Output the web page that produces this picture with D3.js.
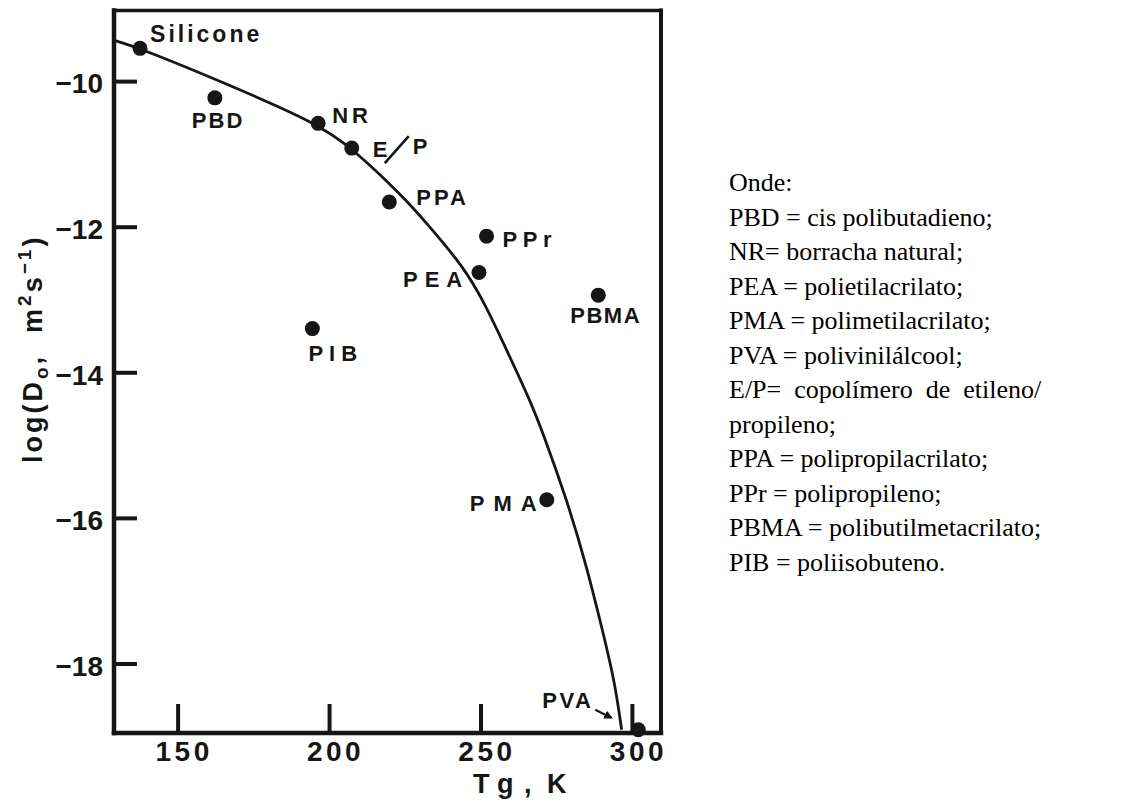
<!DOCTYPE html>
<html>
<head>
<meta charset="utf-8">
<script src="https://cdn.jsdelivr.net/npm/d3@7"></script>
<style>
  html, body { margin: 0; padding: 0; background: #fff; }
  svg { display: block; }
</style>
</head>
<body>
<svg id="chart" width="1121" height="800"></svg>
<script>
// Diffusion coefficient vs. glass transition temperature of several polymers
const polymers   = ["Silicone", "PBD", "NR", "E/P", "PPA", "PPr", "PEA", "PBMA", "PIB", "PMA", "PVA"];
const tgValues   = [137.6, 162.3, 196.4, 207.5, 219.9, 252.0, 249.5, 288.9, 194.5, 271.9, 302.1];
const logD0Values = [-9.55, -10.23, -10.58, -10.92, -11.66, -12.13, -12.63, -12.94, -13.40, -15.75, -18.91];

// Trend curve traced through the series
const curveTg    = [129.0, 137.6, 161.8, 196.3, 207.5, 223.4, 233.3, 244.3, 250.9, 258.6, 266.3, 270.7, 278.5, 285.1, 290.5, 294.4, 296.6];
const curveLogD0 = [-9.44, -9.55, -9.96, -10.58, -10.92, -11.54, -12.00, -12.55, -13.01, -13.69, -14.38, -14.84, -15.75, -16.67, -17.58, -18.27, -18.91];

// Axis ticks
const xTicks = [150, 200, 250, 300];
const yTicks = [-10, -12, -14, -16, -18];

// Key printed beside the plot
const keyLines = [
  "Onde:",
  "PBD = cis polibutadieno;",
  "NR= borracha natural;",
  "PEA = polietilacrilato;",
  "PMA = polimetilacrilato;",
  "PVA = polivinilálcool;",
  "E/P= copolímero de etileno/",
  "propileno;",
  "PPA = polipropilacrilato;",
  "PPr = polipropileno;",
  "PBMA = polibutilmetacrilato;",
  "PIB = poliisobuteno."
];

// ---- layout -------------------------------------------------------------
const M = { left: 114, right: 661, top: 10.5, bottom: 733 };
const ink = "#161616";
const sans = "'Liberation Sans', Arial, Helvetica, sans-serif";
const serif = "'Liberation Serif', 'Times New Roman', serif";

// label placement relative to each dot: offset (px) and letter spacing
const labelLayout = {
  "Silicone": { dx: 10,  dy: -6, ls: 3,   size: 23 },
  "PBD":      { dx: -23, dy: 30, ls: 2,   size: 22 },
  "NR":       { dx: 14,  dy: 0,  ls: 4,   size: 22 },
  "PPA":      { dx: 27,  dy: 3,  ls: 3,   size: 22 },
  "PPr":      { dx: 16,  dy: 11, ls: 5.5, size: 22 },
  "PEA":      { dx: -76, dy: 14, ls: 7,   size: 22 },
  "PBMA":     { dx: -28, dy: 28, ls: 1.5, size: 22 },
  "PIB":      { dx: -4,  dy: 32, ls: 6,   size: 22 },
  "PMA":      { dx: -77, dy: 11, ls: 9,   size: 22 },
  "PVA":      { dx: -96, dy: -22, ls: 2.5, size: 22 }
};

const svg = d3.select("#chart");

const x = d3.scaleLinear().domain([129, 309.6]).range([M.left, M.right]);
const y = d3.scaleLinear().domain([-9.03, -18.955]).range([M.top, M.bottom]);

// ---- axes ---------------------------------------------------------------
const xAxis = d3.axisBottom(x)
  .tickValues(xTicks)
  .tickSize(-29)
  .tickPadding(8)
  .tickFormat(d3.format("d"));

const gx = svg.append("g")
  .attr("transform", `translate(0,${M.bottom})`)
  .call(xAxis);
gx.select(".domain").remove();
gx.selectAll(".tick line").attr("stroke", ink).attr("stroke-width", 4);
gx.selectAll(".tick text")
  .attr("fill", ink)
  .attr("font-family", sans)
  .attr("font-weight", "bold")
  .attr("font-size", 28)
  .attr("letter-spacing", 3.5)
  .attr("dx", 6);

const yAxis = d3.axisLeft(y)
  .tickValues(yTicks)
  .tickSize(-23)
  .tickPadding(11)
  .tickFormat(d3.format("d"));

const gy = svg.append("g")
  .attr("transform", `translate(${M.left},0)`)
  .call(yAxis);
gy.select(".domain").remove();
gy.selectAll(".tick line").attr("stroke", ink).attr("stroke-width", 4);
gy.selectAll(".tick text")
  .attr("fill", ink)
  .attr("font-family", sans)
  .attr("font-weight", "bold")
  .attr("font-size", 28)
  .attr("dy", "0.42em");

// ---- frame --------------------------------------------------------------
const frame = svg.append("g").attr("stroke", ink).attr("stroke-linecap", "square");
frame.append("line").attr("x1", M.left).attr("x2", M.left).attr("y1", M.top).attr("y2", M.bottom).attr("stroke-width", 4.5);
frame.append("line").attr("x1", M.left).attr("x2", M.right).attr("y1", M.bottom).attr("y2", M.bottom).attr("stroke-width", 4.5);
frame.append("line").attr("x1", M.left).attr("x2", M.right).attr("y1", M.top).attr("y2", M.top).attr("stroke-width", 3.5);
frame.append("line").attr("x1", M.right).attr("x2", M.right).attr("y1", M.top).attr("y2", M.bottom).attr("stroke-width", 4);

// ---- axis titles --------------------------------------------------------
const yTitle = svg.append("text")
  .attr("transform", "translate(42,463) rotate(-90)")
  .attr("fill", ink)
  .attr("font-family", sans)
  .attr("font-weight", "bold")
  .attr("font-size", 27)
  .attr("letter-spacing", 3);
yTitle.append("tspan").text("log(D");
yTitle.append("tspan").attr("font-size", 19).attr("dy", 6).text("o");
yTitle.append("tspan").attr("dy", -6).text(",\u00a0 m");
yTitle.append("tspan").attr("font-size", 19).attr("dy", -11).text("2");
yTitle.append("tspan").attr("dy", 11).text("s");
yTitle.append("tspan").attr("font-size", 19).attr("dy", -11).text("\u22121");
yTitle.append("tspan").attr("dy", 11).text(")");

const xTitle = svg.append("text")
  .attr("y", 793)
  .attr("fill", ink)
  .attr("font-family", sans)
  .attr("font-weight", "bold")
  .attr("font-size", 27);
xTitle.append("tspan").attr("x", 473).text("T");
xTitle.append("tspan").attr("x", 497).text("g");
xTitle.append("tspan").attr("x", 524).text(",");
xTitle.append("tspan").attr("x", 547).text("K");

// ---- trend curve --------------------------------------------------------
const curvePts = curveTg.map((t, i) => [t, curveLogD0[i]]);
const line = d3.line()
  .x(d => x(d[0]))
  .y(d => y(d[1]))
  .curve(d3.curveBasis);

svg.append("path")
  .datum(curvePts)
  .attr("d", line)
  .attr("fill", "none")
  .attr("stroke", ink)
  .attr("stroke-width", 2.8);

// ---- points -------------------------------------------------------------
const pts = polymers.map((name, i) => ({ name, tg: tgValues[i], v: logD0Values[i] }));

svg.append("g")
  .selectAll("circle")
  .data(pts)
  .join("circle")
  .attr("cx", d => x(d.tg))
  .attr("cy", d => y(d.v))
  .attr("r", 7.5)
  .attr("fill", ink);

// ---- point labels -------------------------------------------------------
const labels = svg.append("g")
  .attr("fill", ink)
  .attr("font-family", sans)
  .attr("font-weight", "bold");

pts.filter(d => labelLayout[d.name]).forEach(d => {
  const L = labelLayout[d.name];
  labels.append("text")
    .attr("x", x(d.tg) + L.dx)
    .attr("y", y(d.v) + L.dy)
    .attr("font-size", L.size)
    .attr("letter-spacing", L.ls)
    .text(d.name);
});

// E/P label is drawn with a long stroke for the slash
const ep = pts.find(d => d.name === "E/P");
const epx = x(ep.tg), epy = y(ep.v);
labels.append("text").attr("x", epx + 21).attr("y", epy + 9).attr("font-size", 22).text("E");
svg.append("line")
  .attr("x1", epx + 33).attr("y1", epy + 15)
  .attr("x2", epx + 57).attr("y2", epy - 12)
  .attr("stroke", ink).attr("stroke-width", 2.6);
labels.append("text").attr("x", epx + 61).attr("y", epy + 6).attr("font-size", 22).text("P");

// PVA pointer arrow
svg.append("defs").append("marker")
  .attr("id", "arrowhead")
  .attr("viewBox", "0 0 10 10")
  .attr("refX", 8).attr("refY", 5)
  .attr("markerWidth", 4).attr("markerHeight", 4)
  .attr("orient", "auto")
  .append("path")
  .attr("d", "M0,0 L10,5 L0,10 Z")
  .attr("fill", ink);

const pva = pts.find(d => d.name === "PVA");
svg.append("line")
  .attr("x1", x(pva.tg) - 43).attr("y1", y(pva.v) - 20)
  .attr("x2", x(pva.tg) - 27).attr("y2", y(pva.v) - 12)
  .attr("stroke", ink).attr("stroke-width", 2.2)
  .attr("marker-end", "url(#arrowhead)");

// ---- key text -----------------------------------------------------------
const keyX = 729, keyTop = 191, keyPitch = 34.5;
const key = svg.append("g")
  .attr("fill", "#000")
  .attr("font-family", serif)
  .attr("font-size", 26);

const keyText = key.selectAll("text")
  .data(keyLines)
  .join("text")
  .attr("x", keyX)
  .attr("y", (d, i) => keyTop + i * keyPitch)
  .text(d => d);

// the wrapped E/P entry is justified to the width of the longest line
let colWidth = 0;
keyText.each(function () { colWidth = Math.max(colWidth, this.getComputedTextLength()); });
keyText.filter(d => d.startsWith("E/P")).each(function (d) {
  const gaps = d.split(" ").length - 1;
  const extra = colWidth - this.getComputedTextLength();
  d3.select(this).attr("word-spacing", extra / gaps);
});
</script>
</body>
</html>
